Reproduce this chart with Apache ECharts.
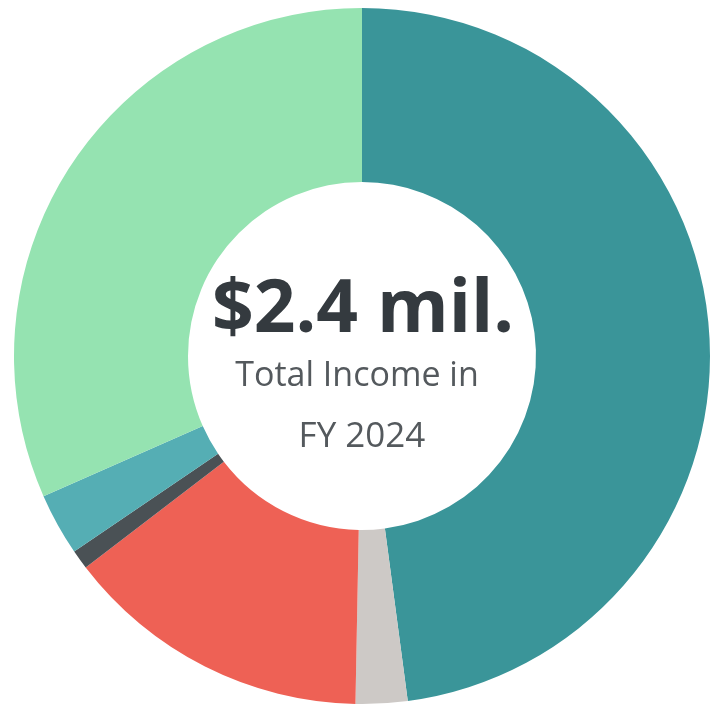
<!DOCTYPE html>
<html>
<head>
<meta charset="utf-8">
<script src="https://cdn.jsdelivr.net/npm/echarts@6/dist/echarts.min.js"></script>
<style>
  html, body { margin: 0; padding: 0; background: #fff; }
  #chart { width: 716px; height: 704px; }
</style>
</head>
<body>
<div id="chart"></div>
<script>
// income sources, share of total (%)
const categories = ['Source A', 'Source B', 'Source C', 'Source D', 'Source E', 'Source F']
const values = [47.9, 2.4, 14.3, 0.9, 2.9, 31.6]
const colors = ['#3a9599', '#cdc9c6', '#ee6155', '#4a5155', '#55aeb4', '#95e3b1']

const chart = echarts.init(document.getElementById('chart'))

chart.setOption({
  animation: false,
  graphic: [
    {
      type: 'text',
      x: 363,
      y: 311,
      style: {
        text: '$2.4 mil.',
        fill: '#343a3f',
        font: 'bold 73px "Open Sans"',
        textAlign: 'center',
        textVerticalAlign: 'middle'
      }
    },
    {
      type: 'text',
      x: 357,
      y: 376,
      style: {
        text: 'Total Income in',
        fill: '#54595d',
        font: '34px "Open Sans"',
        textAlign: 'center',
        textVerticalAlign: 'middle'
      }
    },
    {
      type: 'text',
      x: 362,
      y: 437,
      style: {
        text: 'FY 2024',
        fill: '#54595d',
        font: '35px "Open Sans"',
        textAlign: 'center',
        textVerticalAlign: 'middle'
      }
    }
  ],
  series: [{
    type: 'pie',
    center: [362, 356],
    radius: [174, 348],
    startAngle: 90,
    clockwise: true,
    silent: true,
    label: { show: false },
    labelLine: { show: false },
    itemStyle: { borderWidth: 0 },
    data: categories.map((name, i) => ({
      name: name,
      value: values[i],
      itemStyle: { color: colors[i] }
    }))
  }]
})
</script>
</body>
</html>
